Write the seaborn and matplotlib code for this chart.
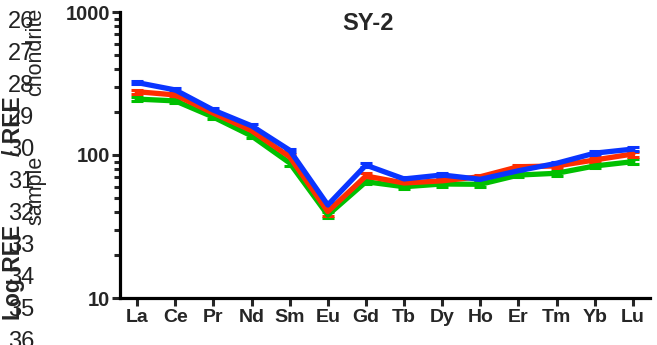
import matplotlib
matplotlib.use("Agg")
import matplotlib.pyplot as plt
import matplotlib.ticker as mticker
import numpy as np
import pandas as pd
import seaborn as sns

# Chondrite-normalised REE pattern, sample SY-2
elements = ["La", "Ce", "Pr", "Nd", "Sm", "Eu", "Gd",
            "Tb", "Dy", "Ho", "Er", "Tm", "Yb", "Lu"]

series_names = ["SY-2-a", "SY-2-b", "SY-2-c"]
series_colors = ["#00c000", "#ff2d00", "#0a35ff"]

green_vals = [246, 239, 184, 136, 88, 38.0, 65.0, 60.0, 62.7, 62.4, 72.4, 74.5, 83.8, 89.8]
red_vals = [277, 263, 196, 148, 97, 40.2, 71.3, 63.7, 66.0, 70.5, 82.8, 83.8, 92.3, 101.6]
blue_vals = [321, 285, 206, 160, 108, 44.7, 85.0, 68.0, 72.5, 67.6, 77.6, 87.5, 103, 110]

green_err = [8, 7, 6, 5, 4, 2.0, 2.5, 2.5, 2.5, 2.5, 2.5, 3.0, 3.0, 3.5]
red_err = [9, 8, 6, 5, 4, 2.5, 3.0, 2.5, 2.5, 2.5, 3.0, 3.0, 3.5, 4.0]
blue_err = [8, 7, 6, 5, 3, 2.0, 2.5, 2.0, 2.0, 2.0, 2.0, 2.5, 3.0, 3.0]

values = [green_vals, red_vals, blue_vals]
errors = [green_err, red_err, blue_err]

y_ticks = [10, 100, 1000]
y_tick_labels = ["10", "100", "1000"]

line_numbers = [str(n) for n in range(26, 37)]

# y-axis title pieces: (text, is_subscript)
ylabel_parts = [("Log REE", False), ("sample", True),
                ("/ REE", False), ("chondrite", True)]

sns.set_style("ticks")
plt.rcParams["font.family"] = ["Liberation Sans", "DejaVu Sans"]

W, H = 657, 345
fig = plt.figure(figsize=(W / 100, H / 100), dpi=100)
ax = fig.add_axes([120 / W, 1 - 298 / H, 530 / W, 286 / H])

x_idx = np.arange(len(elements))
frames = []
for name, vals in zip(series_names, values):
    frames.append(pd.DataFrame({"pos": x_idx, "element": elements,
                                "value": vals, "series": name}))
df = pd.concat(frames, ignore_index=True)

for name, color, vals, errs in zip(series_names, series_colors, values, errors):
    ax.errorbar(x_idx, vals, yerr=errs, fmt="none", ecolor=color,
                elinewidth=2.2, capsize=4.5, capthick=2.2, zorder=2)
    sns.lineplot(data=df[df["series"] == name], x="pos", y="value",
                 color=color, linewidth=3.8, ax=ax, legend=False, zorder=3)

ax.set_yscale("log")
ax.set_ylim(10, 1000)
ax.set_xlim(-0.45, 13.45)
ax.yaxis.set_major_locator(mticker.FixedLocator(y_ticks))
ax.yaxis.set_major_formatter(mticker.FixedFormatter(y_tick_labels))
ax.yaxis.set_minor_locator(mticker.LogLocator(base=10, subs=np.arange(2, 10)))
ax.yaxis.set_minor_formatter(mticker.NullFormatter())
ax.set_xticks(x_idx)
ax.set_xticklabels(elements)
ax.set_xlabel("")
ax.set_ylabel("")

for side in ("top", "right"):
    ax.spines[side].set_visible(False)
for side in ("left", "bottom"):
    ax.spines[side].set_linewidth(2.3)
    ax.spines[side].set_color("black")

ax.tick_params(axis="y", which="major", length=6, width=2.2, pad=1,
               labelsize=14.5)
ax.tick_params(axis="y", which="minor", length=4.5, width=2.2)
ax.tick_params(axis="x", which="major", length=6, width=2.2, pad=2,
               labelsize=14)
for lab in ax.get_xticklabels() + ax.get_yticklabels():
    lab.set_fontweight("bold")

fig.text(368 / W, 1 - 23 / H, "SY-2", ha="center", va="center",
         fontsize=17, fontweight="bold")

# document line numbers in the margin
for i, num in enumerate(line_numbers):
    fig.text(8 / W, 1 - (22 + 32 * i) / H, num, ha="left", va="center",
             fontsize=17, color="#222222")

# rotated y-axis title, built piece by piece so the subscripts sit low
renderer = fig.canvas.get_renderer()
y_cur = 320.0
for text, is_sub in ylabel_parts:
    x_base = 41.0 if is_sub else 20.0
    t = fig.text(x_base / W, 1 - y_cur / H, text, rotation=90,
                 rotation_mode="anchor", ha="left", va="baseline",
                 fontsize=15.5 if is_sub else 16.5,
                 fontweight="normal" if is_sub else "bold")
    ext = t.get_window_extent(renderer)
    y_cur -= ext.height

fig.savefig("out.png", dpi=100)
